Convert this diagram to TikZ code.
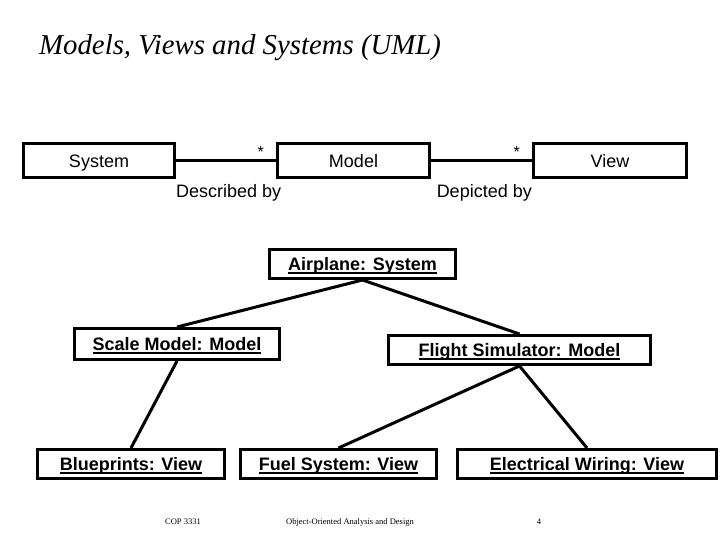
\documentclass[tikz,border=0pt]{standalone}
\usepackage{fontspec}
\setmainfont{Liberation Sans}
\newfontfamily\titlefont{Liberation Serif}
\usetikzlibrary{positioning}
\newcommand\objname[1]{\setbox0\hbox{#1}\rlap{\copy0}\rule[-4pt]{\wd0}{1.6pt}}

\begin{document}
\begin{tikzpicture}[x=1pt,y=1pt,
    cls/.style={draw,line width=3pt,minimum height=34pt,inner sep=0pt,text height=17pt,text depth=2pt,font=\fontsize{18}{20}\selectfont},
    obj/.style={draw,line width=3pt,minimum height=29pt,inner sep=0pt,text height=16pt,text depth=4pt,font=\bfseries\fontsize{18}{20}\selectfont},
    link/.style={line width=3pt},
    lbl/.style={inner sep=0pt,font=\fontsize{18}{20}\selectfont},
    mult/.style={inner sep=0pt,font=\fontsize{16}{18}\selectfont},
    foot/.style={inner sep=0pt,font=\titlefont\fontsize{8.5}{10}\selectfont}]
      \useasboundingbox (0,0) rectangle (720,-540);
      \node[anchor=base west,inner sep=0pt,font=\titlefont\itshape\fontsize{28.8}{32}\selectfont] (title) at (39,-55) {Models, Views and Systems (UML)};
      % class diagram
      \node[cls,minimum width=151pt] (sys) at (99,-160.5) {System};
      \node[cls,minimum width=152pt] (model) at (353.5,-160.5) {Model};
      \node[cls,minimum width=153pt] (view) at (610,-160.5) {View};
      \draw[link] (sys) -- (model);
      \draw[link] (model) -- (view);
      \node[mult,above left=3pt and 12pt of model.west] (m1) {*};
      \node[mult,above left=3pt and 12pt of view.west] (m2) {*};
      \node[lbl,anchor=north west,yshift=-5pt] (descr) at (sys.south east) {Described by};
      \node[lbl,anchor=north east,yshift=-5pt] (depict) at (view.south west) {Depicted by};
      % object diagram
      \node[obj,minimum width=186pt] (air) at (362.5,-264) {\objname{Airplane: System}};
      \node[obj,minimum width=205pt,minimum height=31pt] (scale) at (177,-344) {\objname{Scale Model: Model}};
      \node[obj,minimum width=262pt] (sim) at (519.5,-350) {\objname{Flight Simulator: Model}};
      \node[obj,minimum width=187pt] (blue) at (131,-464) {\objname{Blueprints: View}};
      \node[obj,minimum width=196pt] (fuel) at (338.5,-464) {\objname{Fuel System: View}};
      \node[obj,minimum width=259pt] (wire) at (587,-464) {\objname{Electrical Wiring: View}};
      \draw[link] (air.south) -- (scale.north);
      \draw[link] (air.south) -- (sim.north);
      \draw[link] (scale.south) -- (blue.north);
      \draw[link] (sim.south) -- (fuel.north);
      \draw[link] (sim.south) -- (wire.north);
      % footer
      \node[foot] (course) at (183,-522) {COP 3331};
      \node[foot] (book) at (350,-522) {Object-Oriented Analysis and Design};
      \node[foot] (page) at (539,-522) {4};
    \end{tikzpicture}
\end{document}
